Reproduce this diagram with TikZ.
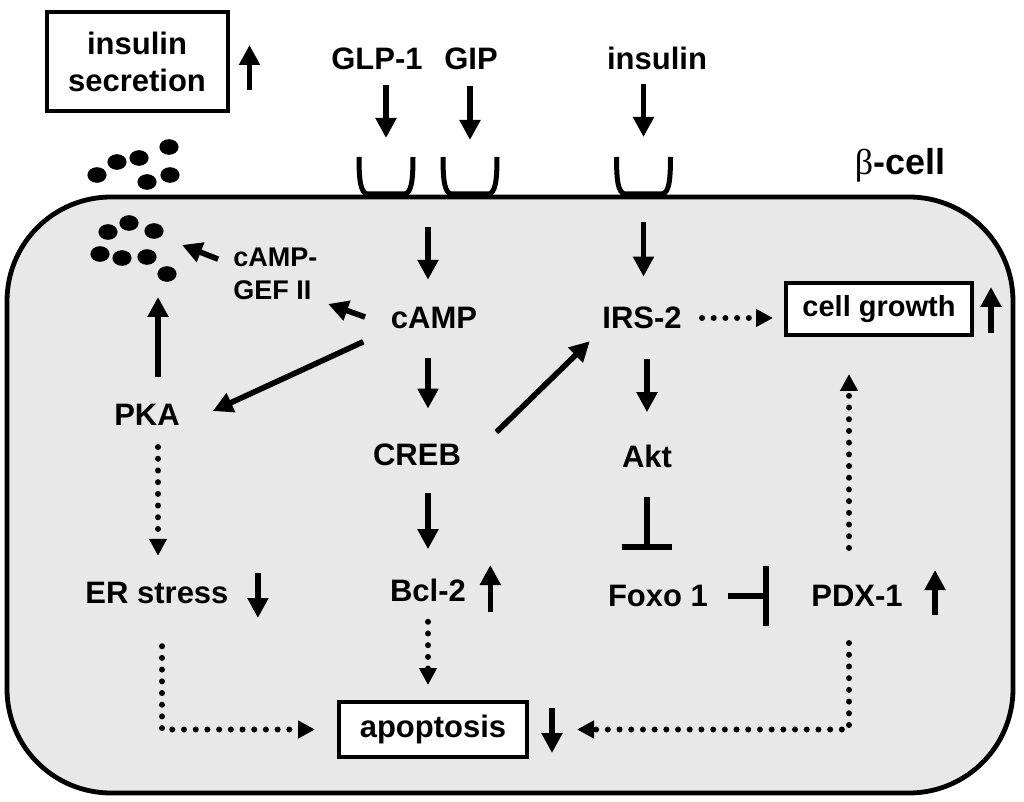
\documentclass[tikz,border=0pt]{standalone}
\usepackage{fontspec}
\setmainfont{Liberation Sans}
\newfontfamily\greekfont{Liberation Serif}
\usetikzlibrary{arrows.meta,calc}
\definecolor{cellgray}{RGB}{232,232,232}

\begin{document}
\begin{tikzpicture}[x=0.5pt,y=-0.5pt,
    lbl/.style={font=\fontsize{15.5}{18.5}\selectfont\bfseries,inner sep=0pt},
    small/.style={font=\fontsize{13.5}{16.5}\selectfont\bfseries,inner sep=0pt,align=left},
    box/.style={lbl,draw,line width=2pt,fill=white,minimum width=#1},
    arr/.style={line width=2.8pt,-{Triangle[width=10pt,length=10pt]}},
    darr/.style={line width=3pt,line cap=round,dash pattern=on 0pt off 5.85pt,-{Triangle[width=8.5pt,length=8.5pt]}},
    inh/.style={line width=2.8pt,-{Bar[width=#1]}},
    receptor/.pic={\draw[line width=2.5pt] (-27,0) .. controls (-27,26) and (-25,35) .. (-19,37) -- (19,37) .. controls (25,35) and (27,26) .. (27,0);}]
  \fill[white] (0,0) rectangle (1024,802);
  \useasboundingbox (0,0) rectangle (1024,802);
  % cell
  \draw[line width=2.4pt,fill=cellgray,rounded corners=52pt] (7,197) rectangle (1013,793);
  \coordinate (rglp) at (386,157);
  \coordinate (rgip) at (470,157);
  \coordinate (rins) at (643.5,157);
  \foreach \r in {rglp,rgip,rins} \pic at (\r) {receptor};
  % granules
  \foreach \x/\y in {97/175,117/162,139/158,169/147,147/182,170/175,108/232,129/223,154/231,100/254,122/258,147/257,167/274}
    \fill (\x,\y) ellipse[x radius=4.8pt,y radius=3.9pt];
  \coordinate (vesr) at (182,245);
  \coordinate (vesb) at (158,297);
  % labels
  \node[box=90.5pt,minimum height=49.5pt,align=center] (sec) at (137,62) {insulin\\secretion};
  \node[lbl] (glp) at (377,59) {GLP-1};
  \node[lbl] (gip) at (471,59) {GIP};
  \node[lbl] (ins) at (657,58) {insulin};
  \node[font=\fontsize{18}{21}\selectfont\bfseries,inner sep=0pt] (beta) at (900,165) {{\greekfont\mdseries β}-cell};
  \node[small,anchor=west] (gef) at (233,274) {cAMP-\\GEF II};
  \node[lbl] (camp) at (434,318) {cAMP};
  \node[lbl] (irs) at (642,318) {IRS-2};
  \node[box=93pt,minimum height=26pt,font=\fontsize{14.5}{17}\selectfont\bfseries] (cg) at (879,309) {cell growth};
  \node[lbl] (pka) at (147,415) {PKA};
  \node[lbl] (creb) at (417,455) {CREB};
  \node[lbl] (akt) at (647,456) {Akt};
  \node[lbl] (er) at (157,593) {ER stress};
  \node[lbl] (bcl) at (428,590) {Bcl-2};
  \node[lbl] (foxo) at (658,596) {Foxo 1};
  \node[lbl] (pdx) at (857,596) {PDX-1};
  \node[box=94pt,minimum height=27.5pt] (apo) at (433,729.5) {apoptosis};
  % signalling
  \draw[arr,shorten <=7.5pt,shorten >=9.5pt] (glp.south -| rglp) -- (rglp);
  \draw[arr,shorten <=8pt,shorten >=8.5pt] (gip.south -| rgip) -- (rgip);
  \draw[arr,shorten <=7pt,shorten >=10pt] (ins.south -| rins) -- (rins);
  \coordinate (cs) at ($(rglp)!.5!(rgip)$);
  \draw[arr,shorten <=35pt,shorten >=13.5pt] (cs) -- (cs |- camp.north);
  \draw[arr,shorten <=32.5pt,shorten >=15pt] (rins) -- (rins |- irs.north);
  \draw[arr,shorten <=8pt] ([yshift=4.5pt]gef.west) -- (vesr);
  \draw[arr,shorten <=13.5pt,shorten >=5.5pt] ([yshift=-4pt]camp.west) -- (gef.south east);
  \draw[arr,shorten <=15pt,shorten >=18pt] (camp.south west) -- (pka.south east);
  \draw[arr,shorten <=13.5pt] (pka.north -| vesb) -- (vesb);
  \draw[darr,shorten <=10.5pt,shorten >=13pt] (pka.south -| vesb) -- (er.north -| vesb);
  \draw[arr,shorten <=14.5pt,shorten >=17.5pt] (camp.south -| cs) -- (creb.north -| cs);
  \draw[arr,shorten <=13.5pt,shorten >=14.5pt] (creb.south -| bcl) -- (bcl.north);
  \draw[arr,shorten <=24.5pt,shorten >=8.5pt] (creb.south east) -- (irs.south west);
  \draw[arr,shorten <=15pt,shorten >=16pt] (irs.south -| akt) -- (akt.north);
  \draw[darr,shorten <=10pt,shorten >=5.5pt] (irs.east) -- (irs.east -| cg.west);
  \draw[inh=25pt,shorten <=14.5pt,shorten >=17.5pt] (akt.south) -- (akt.south |- foxo.north);
  \draw[inh=30pt,shorten <=10pt,shorten >=21pt] (foxo.east) -- (pdx.west);
  \draw[darr,shorten <=18.5pt,shorten >=18.5pt] ([xshift=-4pt]pdx.north) -- ([xshift=-4pt]pdx.north |- cg.south);
  \draw[darr,shorten <=18pt,shorten >=24pt] ([xshift=-4pt]pdx.south) |- (apo.east);
  \draw[darr,shorten <=21pt,shorten >=11pt] ([xshift=2.5pt]er.south) |- (apo.west);
  \draw[darr,shorten <=10pt,shorten >=7.5pt] (bcl.south) -- (bcl.south |- apo.north);
  % up / down
  \draw[arr] ($(sec.east)+(20,28)$) -- ++(0,-45);
  \draw[arr] ($(bcl.east)+(24,22)$) -- ++(0,-47);
  \draw[arr] ($(er.east)+(29,-20)$) -- ++(0,45);
  \draw[arr] ($(apo.east)+(23,-21.5)$) -- ++(0,45);
  \draw[arr] ($(pdx.east)+(32,19)$) -- ++(0,-45);
  \draw[arr] ($(cg.east)+(17,24)$) -- ++(0,-46);
\end{tikzpicture}
\end{document}
